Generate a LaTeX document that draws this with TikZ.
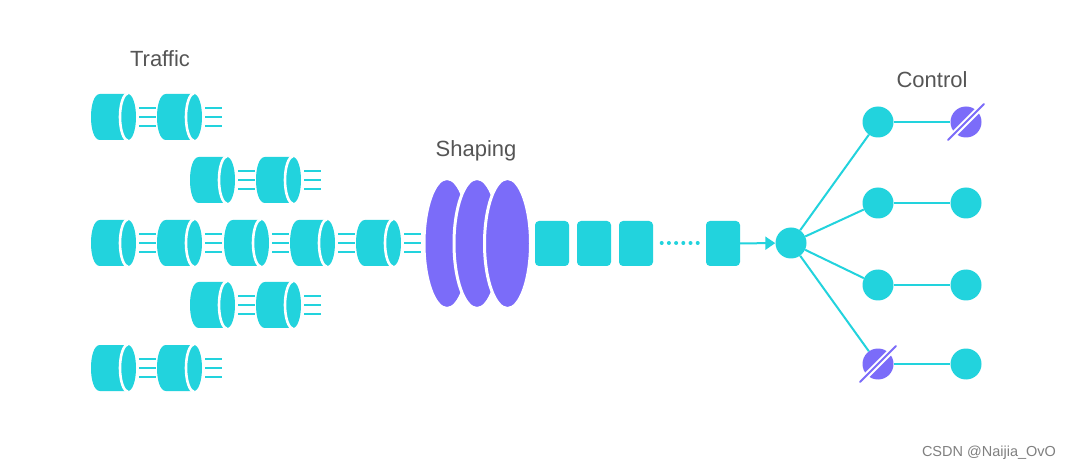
\documentclass[tikz,border=0pt]{standalone}
\usepackage{fontspec}
\setmainfont{Liberation Sans}
\definecolor{teal}{HTML}{22D3DD}
\definecolor{vio}{HTML}{7B6CF9}
\definecolor{lab}{HTML}{555555}
\tikzset{
  dotnode/.style={circle,fill=teal,draw=none,minimum size=31pt,inner sep=0pt},
  offnode/.style={circle,fill=vio,draw=none,minimum size=31pt,inner sep=0pt},
  pack/.style={rectangle,rounded corners=4pt,fill=teal,draw=none,minimum width=34pt,minimum height=45pt,inner sep=0pt},
  wire/.style={draw=teal,line width=2pt},
  disc/.style={ellipse,fill=vio,draw=white,line width=3pt,minimum width=46pt,minimum height=130pt,inner sep=0pt},
  lbl/.style={text=lab,font=\fontsize{22}{26}\selectfont,inner sep=0pt},
  cyl/.pic={
    \fill[teal] (9,-23) -- (37,-23) -- (37,23) -- (9,23)
      .. controls (3,23) and (0,12) .. (0,0)
      .. controls (0,-12) and (3,-23) .. (9,-23) -- cycle;
    \fill[teal] (37,0) ellipse [x radius=8,y radius=23];
    \draw[white,line width=2.6pt] (37,-23.5) arc [start angle=90,end angle=270,x radius=8,y radius=-23.5];
    \foreach \dy in {-9,0,9} \draw[teal,line width=1.8pt] (48,\dy) -- (65,\dy);
  },
  slash/.pic={
    \draw[white,line width=6pt] (-15,15) -- (15,-15);
    \draw[vio,line width=2pt,line cap=round] (-18,18) -- (18,-18);
  }
}
\usetikzlibrary{shapes.geometric,arrows.meta}
\begin{document}
\begin{tikzpicture}[x=1pt,y=-1pt]
\useasboundingbox (0,0) rectangle (1071,470);
\fill[white] (0,0) rectangle (1071,470);
\node[lbl] (traffic) at (160,59) {Traffic};
\node[lbl] (shaping) at (476,151) {Shaping};
\node[lbl] (control) at (932,80) {Control};
\foreach \x/\y in {91/117,157/117,190/180,256/180,91/243,157/243,224/243,290/243,356/243,190/305,256/305,91/368,157/368}
  \pic at (\x,\y) {cyl};
\node[disc] (d1) at (447,243.5) {};
\node[disc] (d2) at (477,243.5) {};
\node[disc] (d3) at (507.5,243.5) {};
\node[pack] (s1) at (552,243.5) {};
\node[pack] (s2) at (594,243.5) {};
\node[pack] (s3) at (636,243.5) {};
\node[pack] (s4) at (723,243.5) {};
\foreach \x in {0,...,5} \fill[teal] (661.7+7.2*\x,243) circle (2);
\node[dotnode] (hub) at (791,243) {};
\node[dotnode] (a1) at (878,122) {};
\node[dotnode] (a2) at (878,203) {};
\node[dotnode] (a3) at (878,285) {};
\node[offnode] (a4) at (878,364) {};
\node[offnode] (b1) at (966,122) {};
\node[dotnode] (b2) at (966,203) {};
\node[dotnode] (b3) at (966,285) {};
\node[dotnode] (b4) at (966,364) {};
\draw[wire,-{Triangle[length=10pt,width=13pt]}] (s4) -- (hub);
\foreach \i in {1,...,4} {
  \draw[wire] (hub) -- (a\i);
  \draw[wire] (a\i) -- (b\i);
}
\pic at (b1) {slash};
\pic at (a4) {slash};
\node[text=gray,font=\fontsize{14.5}{17}\selectfont,inner sep=0pt] (mark) at (989,453) {CSDN @Naijia\_OvO};
\end{tikzpicture}
\end{document}
